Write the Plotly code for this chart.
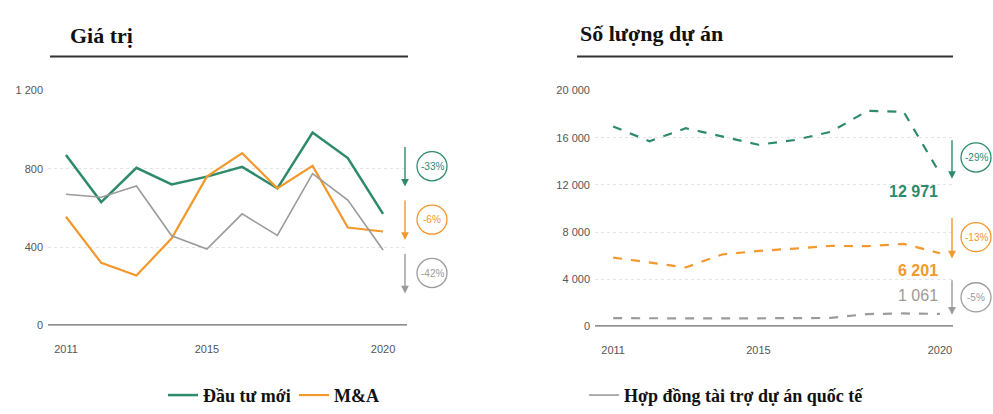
import plotly.graph_objects as go

W, H = 993, 414
years = list(range(2011, 2021))

# Giá trị (value)
val_new = [870, 630, 805, 720, 760, 810, 700, 985, 855, 570]
val_ma = [555, 320, 255, 445, 760, 880, 700, 815, 500, 480]
val_proj = [670, 655, 712, 458, 390, 570, 460, 775, 640, 385]

# Số lượng dự án (count)
cnt_new = [16950, 15700, 16800, 16100, 15400, 15800, 16500, 18270, 18200, 12971]
cnt_ma = [5840, 5400, 5000, 6100, 6400, 6600, 6830, 6800, 7000, 6201]
cnt_proj = [700, 680, 690, 680, 690, 700, 720, 1050, 1100, 1061]

names = ["Đầu tư mới", "M&A", "Hợp đồng tài trợ dự án quốc tế"]
colors = ["#2e8a6c", "#f3982c", "#9b9b9b"]
pct_left = ["-33%", "-6%", "-42%"]
pct_right = ["-29%", "-13%", "-5%"]
end_labels = ["12 971", "6 201", "1 061"]

left_yticks = [0, 400, 800, 1200]
left_yticktext = ["0", "400", "800", "1 200"]
right_yticks = [0, 4000, 8000, 12000, 16000, 20000]
right_yticktext = ["0", "4 000", "8 000", "12 000", "16 000", "20 000"]
xticks = [2011, 2015, 2020]


def px(x):
    return x / W


def py(y):
    return 1 - y / H


fig = go.Figure()

legends = ["legend", "legend2", "legend3"]
widths_l = [2.5, 2.2, 1.6]
for i, ys in enumerate([val_new, val_ma, val_proj]):
    fig.add_trace(go.Scatter(x=years, y=ys, mode="lines", name=names[i],
                             line=dict(color=colors[i], width=widths_l[i]),
                             xaxis="x", yaxis="y", legend=legends[i]))
for i, ys in enumerate([cnt_new, cnt_ma, cnt_proj]):
    fig.add_trace(go.Scatter(x=years, y=ys, mode="lines", name=names[i],
                             line=dict(color=colors[i], width=2.2, dash="dash"),
                             xaxis="x2", yaxis="y2", showlegend=False))

tickfont = dict(family="Liberation Sans, Arial, sans-serif", size=11, color="#555")
grid = dict(showgrid=True, gridcolor="#e4e4e4", gridwidth=1, griddash="dot")

fig.update_layout(
    width=W, height=H, margin=dict(l=0, r=0, t=0, b=0),
    paper_bgcolor="white", plot_bgcolor="white",
    xaxis=dict(domain=[px(48), px(407)], range=[2010.49, 2020.68], tickvals=xticks,
               showgrid=False, zeroline=False, showline=False, ticks="", tickfont=tickfont,
               ticklabelstandoff=16),
    yaxis=dict(domain=[py(329), py(87)], range=[0, 1200], tickvals=left_yticks,
               ticktext=left_yticktext, zeroline=False, ticks="", tickfont=tickfont,
               ticklabelstandoff=4, **grid),
    xaxis2=dict(domain=[px(595), px(953)], range=[2010.5, 2020.36], tickvals=xticks,
                showgrid=False, zeroline=False, showline=False, ticks="", tickfont=tickfont,
                anchor="y2", ticklabelstandoff=16),
    yaxis2=dict(domain=[py(330), py(87)], range=[0, 20000], tickvals=right_yticks,
                ticktext=right_yticktext, zeroline=False, ticks="", tickfont=tickfont,
                anchor="x2", ticklabelstandoff=4, **grid),
    showlegend=True,
)

legfont = dict(family="Liberation Serif, Times New Roman, serif", size=18, color="#111",
               weight="bold")
leg_x = [163, 294, 584]
for lg, lx in zip(legends, leg_x):
    fig.update_layout({lg: dict(x=px(lx), y=py(401), xanchor="left", yanchor="middle",
                                orientation="h", font=legfont, bgcolor="rgba(0,0,0,0)",
                                itemwidth=30)})

# zero lines
fig.add_shape(type="line", xref="paper", yref="y", x0=px(48), x1=px(407), y0=0, y1=0,
              line=dict(color="#6a6a6a", width=2.5))
fig.add_shape(type="line", xref="paper", yref="y2", x0=px(595), x1=px(953), y0=0, y1=0,
              line=dict(color="#6a6a6a", width=2.5))

# titles and underlines
titlefont = dict(family="Liberation Serif, Times New Roman, serif", size=22, color="#111")
fig.add_annotation(text="<b>Giá trị</b>", xref="paper", yref="paper", x=px(68), y=py(30),
                   xanchor="left", yanchor="middle", showarrow=False, font=titlefont)
fig.add_annotation(text="<b>Số lượng dự án</b>", xref="paper", yref="paper", x=px(578), y=py(28),
                   xanchor="left", yanchor="middle", showarrow=False, font=titlefont)
fig.add_shape(type="line", xref="paper", yref="paper", x0=px(50), x1=px(408), y0=py(52), y1=py(52),
              line=dict(color="#333", width=1.8))
fig.add_shape(type="line", xref="paper", yref="paper", x0=px(577), x1=px(953), y0=py(52), y1=py(52),
              line=dict(color="#333", width=1.8))


# arrows + circled percentages
def arrow_badge(ax_x, y_top, y_bot, cx, cy, color, text):
    fig.add_annotation(x=px(ax_x), y=py(y_bot), xref="paper", yref="paper", text="",
                       showarrow=True, ax=0, ay=-(y_bot - y_top), axref="pixel", ayref="pixel",
                       arrowhead=2, arrowsize=1.1, arrowwidth=1.4, arrowcolor=color)
    r = 15
    fig.add_shape(type="circle", xref="paper", yref="paper", x0=px(cx - r), x1=px(cx + r),
                  y0=py(cy + r), y1=py(cy - r), line=dict(color=color, width=1.3))
    fig.add_annotation(x=px(cx), y=py(cy), xref="paper", yref="paper", text=text,
                       xanchor="center", yanchor="middle", showarrow=False,
                       font=dict(family="Liberation Sans, Arial", size=10, color=color))


left_arrows = [(145, 186, 165), (200, 241, 220), (255, 296, 275)]
for i, (a, b, c) in enumerate(left_arrows):
    arrow_badge(405, a, b, 432, c, colors[i], pct_left[i])
right_arrows = [(138, 178, 156), (218, 260, 238), (282, 318, 300)]
for i, (a, b, c) in enumerate(right_arrows):
    arrow_badge(952, a, b, 976, c, colors[i], pct_right[i])

# end labels
shifts = [-18, -17, 18]
ends = [cnt_new[-1], cnt_ma[-1], cnt_proj[-1]]
for i in range(3):
    txt = end_labels[i] if i == 2 else "<b>" + end_labels[i] + "</b>"
    fig.add_annotation(x=years[-1], y=ends[i], xref="x2", yref="y2", text=txt,
                       xanchor="right", yanchor="middle", yshift=shifts[i], xshift=0, showarrow=False,
                       font=dict(family="Liberation Sans, Arial", size=16, color=colors[i]))

fig.write_html("out.html")
